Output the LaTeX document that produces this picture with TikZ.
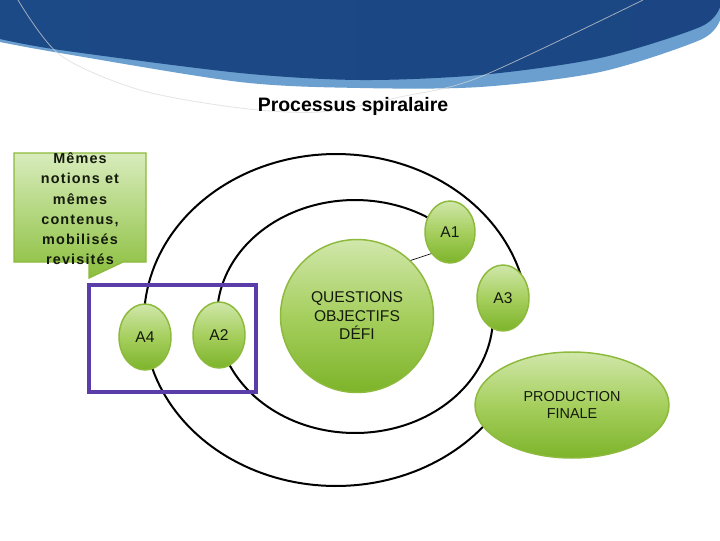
\documentclass[tikz,border=0pt]{standalone}
\usepackage{fontspec}
\setmainfont{Liberation Sans}
\usetikzlibrary{shapes.geometric}
\definecolor{navyA}{HTML}{1C4A86}
\definecolor{navyB}{HTML}{3A72AA}
\definecolor{navyC}{HTML}{1B4683}
\definecolor{skyband}{HTML}{6A9FCF}
\definecolor{gtop}{HTML}{D0E7AA}
\definecolor{gmid}{HTML}{A6CF5E}
\definecolor{gbot}{HTML}{7DB42A}
\definecolor{gborder}{HTML}{8DB93C}
\definecolor{ctop}{HTML}{D8ECBC}
\definecolor{cbot}{HTML}{8BBF3D}
\definecolor{purplebox}{HTML}{5A3DA8}
\definecolor{txtdark}{HTML}{141A0C}
\tikzset{
  bubble/.style={ellipse, draw=gborder, line width=1.1pt, top color=gtop, bottom color=gbot, middle color=gmid,
    inner sep=0pt, text=txtdark, font=\fontsize{11.7}{13.9}\selectfont, align=center},
  spiral/.style={line width=1.5pt, black},
}
\begin{document}
\begin{tikzpicture}[x=0.75pt,y=-0.75pt]
\useasboundingbox (0,0) rectangle (720,540);
\fill[white] (0,0) rectangle (720,540);
% header band
\fill[skyband] (0,0) -- plot[smooth] coordinates {(0,42) (60,53) (240,82) (360,88) (480,87) (600,72) (700,40) (720,20)} -- (720,0) -- cycle;
\shade[left color=navyA, middle color=navyB, right color=navyC] (0,0) -- plot[smooth] coordinates {(0,39) (60,50) (240,73) (360,80) (480,75) (600,58) (700,27) (720,7)} -- (720,0) -- cycle;
\draw[gray!30, line width=0.6pt, opacity=0.7] plot[smooth] coordinates {(18,0) (60,55) (140,90) (240,108) (320,112) (400,97) (480,77) (643,0)};
% title
\node[anchor=base, font=\bfseries\fontsize{14.6}{17}\selectfont, text=black] (title) at (353,111) {Processus spiralaire};
% spiral
\draw[spiral] plot[domain=0:316, samples=140, variable=\t] ({355+138*cos(\t)}, {316.5+116.5*sin(\t)});
\draw[spiral] plot[domain=30:350, samples=160, variable=\t] ({336+192*cos(\t)}, {320+166*sin(\t)});
% purple box
\draw[purplebox, line width=2.3pt] (89,285) rectangle (256,392);
% callout
\shade[top color=ctop, bottom color=cbot, draw=gborder, line width=1pt]
  (14,153) -- (146,153) -- (146,262) -- (123,262) -- (89,278) -- (89,262) -- (14,262) -- cycle;
\node[align=center, text=txtdark, font=\bfseries\fontsize{10.8}{15.2}\selectfont\addfontfeature{LetterSpace=8}] (callout) at (80,209)
  {Mêmes\\notions et\\mêmes\\contenus,\\mobilisés\\revisités};
% nodes
\node[bubble, minimum width=153*0.75pt, minimum height=153*0.75pt] (Q) at (357,316) {QUESTIONS\\OBJECTIFS\\DÉFI};
\node[bubble, minimum width=50*0.75pt, minimum height=62*0.75pt] (A1) at (450,232) {A1};
\node[bubble, minimum width=52*0.75pt, minimum height=66*0.75pt] (A3) at (503,298) {A3};
\node[bubble, minimum width=52*0.75pt, minimum height=66*0.75pt] (A2) at (219,335) {A2};
\node[bubble, minimum width=52*0.75pt, minimum height=66*0.75pt] (A4) at (145,337) {A4};
\node[bubble, minimum width=194*0.75pt, minimum height=106*0.75pt, font=\fontsize{10.8}{12.75}\selectfont] (PF) at (572,405) {PRODUCTION\\FINALE};
\draw[line width=0.5pt, black] (Q.46) -- (A1.229);
\end{tikzpicture}
\end{document}
